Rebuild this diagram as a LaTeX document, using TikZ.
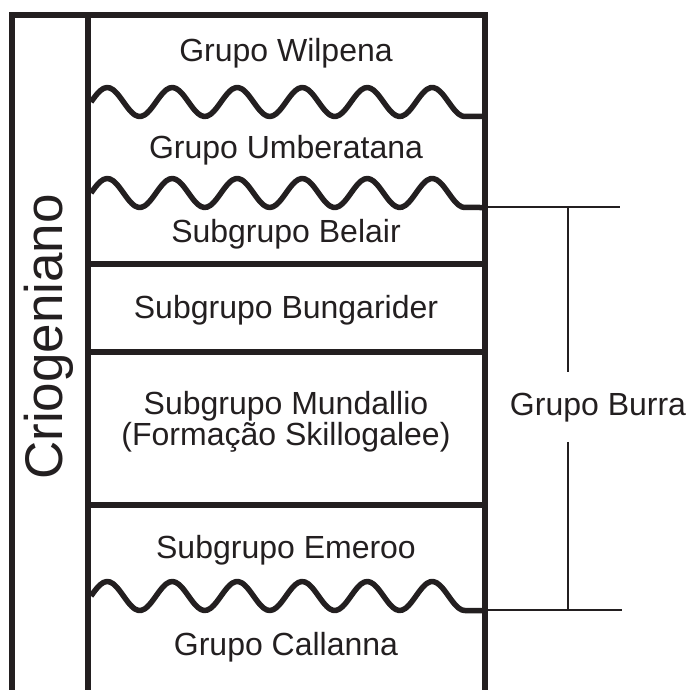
\documentclass[tikz,border=0pt]{standalone}
\usepackage{fontspec}
\setmainfont{Liberation Sans}
\definecolor{tinta}{HTML}{231F20}
\begin{document}
\begin{tikzpicture}[x=1pt,y=-1pt,
    quadro/.style={line width=5.5pt,draw=tinta,line join=miter},
    onda/.style={line width=5.5pt,draw=tinta,line join=round},
    chave/.style={line width=2.5pt,draw=tinta},
    every node/.style={text=tinta,anchor=base,inner sep=0pt,
      font=\fontsize{32}{28}\selectfont}]
  \useasboundingbox (0,0) rectangle (687,690);
  % quadro
  \draw[quadro] (12,690) -- (12,15) -- (485,15) -- (485,690);
  \draw[quadro] (88,15) -- (88,690);
  \foreach \y in {264,352,505}
    \draw[quadro] (88,\y) -- (485,\y);
  % discordancias
  \foreach \yc in {102,193,596}
    \draw[onda] plot[domain=91:465,samples=120,smooth]
      (\x,{\yc-14.5*sin(5.5385*(\x-91))}) -- (485,\yc+14.5);
  % unidades
  \node (W) at (286,62)  {Grupo Wilpena};
  \node (U) at (286,158) {Grupo Umberatana};
  \node (Be) at (286,242) {Subgrupo Belair};
  \node (Bu) at (286,318) {Subgrupo Bungarider};
  \node[align=center] (M) at (286,445) {Subgrupo Mundallio\\(Formação Skillogalee)};
  \node (E) at (286,558) {Subgrupo Emeroo};
  \node (C) at (286,655) {Grupo Callanna};
  \node[rotate=90,font=\fontsize{53}{53}\selectfont] (P) at (62,337) {Criogeniano};
  % Grupo Burra
  \node[inner ysep=20pt] (B) at (598,415) {Grupo Burra};
  \coordinate (topo) at (568,207);
  \coordinate (base) at (568,610);
  \draw[chave] (485,207) -- (620,207);
  \draw[chave] (485,610) -- (622,610);
  \draw[chave] (topo) -- (topo |- B.north);
  \draw[chave] (base |- B.south) -- (base);
\end{tikzpicture}
\end{document}
